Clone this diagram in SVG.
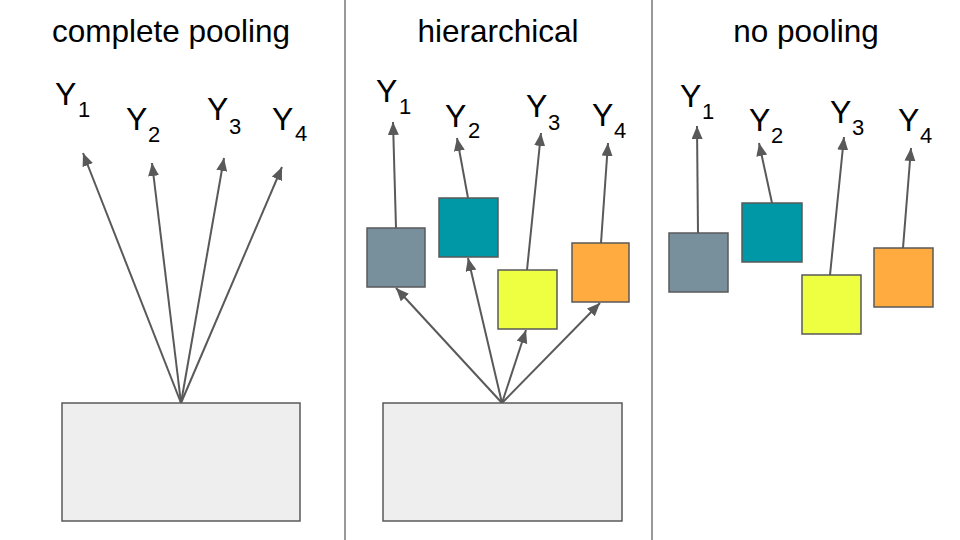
<svg xmlns="http://www.w3.org/2000/svg" width="960" height="540" viewBox="0 0 960 540">
<defs>
<marker id="ah" markerUnits="userSpaceOnUse" markerWidth="14" markerHeight="12" refX="13" refY="5.5" orient="auto" viewBox="0 0 14 12">
<path d="M0,0 L13,5.5 L0,11 z" fill="#595959"/>
</marker>
<style>
.t{font-family:"Liberation Sans",Arial,sans-serif;fill:#000}
.title{font-size:31.5px;text-anchor:middle}
.y{font-size:32px}
.s{font-size:22px}
.c{stroke:#595959;stroke-width:2;fill:none;marker-end:url(#ah)}
.div{stroke:#999;stroke-width:2}
.base{fill:#eeeeee;stroke:#595959;stroke-width:1.5}
.bx{stroke:#595959;stroke-width:1.5}
.g1{fill:#78909c}.g2{fill:#0097a7}.g3{fill:#eeff41}.g4{fill:#ffab40}
</style>
</defs>
<rect width="960" height="540" fill="#fff"/>
<g id="dividers">
<line class="div" x1="345" y1="0" x2="345" y2="540"/>
<line class="div" x1="652" y1="0" x2="652" y2="540"/>
</g>
<g id="titles">
<text class="t title" x="171" y="42">complete pooling</text>
<text class="t title" x="498" y="42">hierarchical</text>
<text class="t title" x="806" y="42">no pooling</text>
</g>
<g id="connectors">
<line class="c" x1="181" y1="403" x2="83" y2="153"/>
<line class="c" x1="181" y1="403" x2="152" y2="163"/>
<line class="c" x1="181" y1="403" x2="224" y2="158"/>
<line class="c" x1="181" y1="403" x2="282" y2="167"/>
<line class="c" x1="502" y1="403" x2="396" y2="288"/>
<line class="c" x1="502" y1="403" x2="468" y2="258"/>
<line class="c" x1="502" y1="403" x2="526" y2="330"/>
<line class="c" x1="502" y1="403" x2="600" y2="303"/>
<line class="c" x1="396" y1="228" x2="393" y2="122"/>
<line class="c" x1="468" y1="198" x2="457" y2="138"/>
<line class="c" x1="527" y1="270" x2="541" y2="133"/>
<line class="c" x1="601" y1="243" x2="608" y2="143"/>
<line class="c" x1="698" y1="233" x2="697" y2="126"/>
<line class="c" x1="772" y1="203" x2="759" y2="143"/>
<line class="c" x1="830" y1="275" x2="844" y2="137"/>
<line class="c" x1="903" y1="248" x2="911" y2="148"/>
</g>
<g id="pool-complete"><rect class="base" x="62" y="403" width="238" height="118"/></g>
<g id="pool-hier"><rect class="base" x="383" y="403" width="239" height="118"/></g>
<g id="h-box1"><rect class="bx g1" x="367" y="228" width="58" height="59"/></g>
<g id="h-box2"><rect class="bx g2" x="439" y="198" width="59" height="59"/></g>
<g id="h-box3"><rect class="bx g3" x="498" y="270" width="59" height="59"/></g>
<g id="h-box4"><rect class="bx g4" x="572" y="243" width="57" height="59"/></g>
<g id="n-box1"><rect class="bx g1" x="669" y="233" width="59" height="59"/></g>
<g id="n-box2"><rect class="bx g2" x="742" y="203" width="60" height="59"/></g>
<g id="n-box3"><rect class="bx g3" x="802" y="275" width="59" height="59"/></g>
<g id="n-box4"><rect class="bx g4" x="874" y="248" width="59" height="59"/></g>
<g id="labels-complete">
<text class="t y" x="55" y="105">Y</text><text class="t s" x="78" y="117">1</text>
<text class="t y" x="126" y="130">Y</text><text class="t s" x="148" y="142">2</text>
<text class="t y" x="207" y="120">Y</text><text class="t s" x="229" y="134">3</text>
<text class="t y" x="272" y="130">Y</text><text class="t s" x="295" y="141">4</text>
</g>
<g id="labels-hier">
<text class="t y" x="376" y="102">Y</text><text class="t s" x="399" y="114">1</text>
<text class="t y" x="445" y="127">Y</text><text class="t s" x="468" y="138">2</text>
<text class="t y" x="526" y="117">Y</text><text class="t s" x="548" y="130">3</text>
<text class="t y" x="592" y="126">Y</text><text class="t s" x="614" y="138">4</text>
</g>
<g id="labels-none">
<text class="t y" x="680" y="107">Y</text><text class="t s" x="702" y="119">1</text>
<text class="t y" x="749" y="131">Y</text><text class="t s" x="771" y="143">2</text>
<text class="t y" x="830" y="123">Y</text><text class="t s" x="852" y="135">3</text>
<text class="t y" x="898" y="131">Y</text><text class="t s" x="920" y="143">4</text>
</g>
</svg>
